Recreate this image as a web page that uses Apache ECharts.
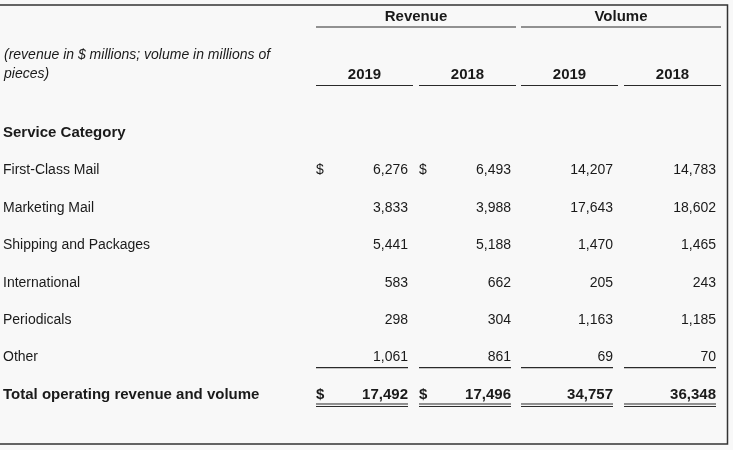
<!DOCTYPE html>
<html>
<head>
<meta charset="utf-8">
<script src="https://cdn.jsdelivr.net/npm/echarts@6/dist/echarts.min.js"></script>
<style>
  html, body { margin: 0; padding: 0; background: #f8f8f8; }
  #main { width: 733px; height: 450px; }
</style>
</head>
<body>
<div id="main"></div>
<script>
// data
const groups = ['Revenue', 'Volume']
const years = ['2019', '2018', '2019', '2018']
const noteLines = ['(revenue in $ millions; volume in millions of', 'pieces)']
const sectionTitle = 'Service Category'
const categories = ['First-Class Mail', 'Marketing Mail', 'Shipping and Packages', 'International', 'Periodicals', 'Other']
const revenue2019 = [6276, 3833, 5441, 583, 298, 1061]
const revenue2018 = [6493, 3988, 5188, 662, 304, 861]
const volume2019 = [14207, 17643, 1470, 205, 1163, 69]
const volume2018 = [14783, 18602, 1465, 243, 1185, 70]
const totalLabel = 'Total operating revenue and volume'

const columns = [revenue2019, revenue2018, volume2019, volume2018]
const totals = columns.map((c) => c.reduce((a, b) => a + b, 0))
const rowNames = [sectionTitle].concat(categories, [totalLabel])

// layout
const FONT = 'Helvetica, Arial, "Liberation Sans", sans-serif'
const INK = '#1a1a1a'
const LINE = '#2a2a2a'
const colBox = [
  { l: 316, r: 408, dollar: true },
  { l: 419, r: 511, dollar: true },
  { l: 521, r: 613, dollar: false },
  { l: 624, r: 716, dollar: false }
]
const fmt = (v) => v.toLocaleString('en-US')

var myChart = echarts.init(document.getElementById('main'))

function hline(x1, x2, y, w) {
  return {
    type: 'line',
    shape: { x1: x1, y1: y, x2: x2, y2: y },
    style: { stroke: LINE, lineWidth: w || 1.2 }
  }
}
function txt(x, y, s, align, bold, italic) {
  // bold text in the source is set a touch larger/wider
  const size = bold ? 15 : 14
  return {
    type: 'text',
    x: x, y: y,
    style: {
      text: s,
      fill: INK,
      font: (italic ? 'italic ' : '') + (bold ? 'bold ' : '') + size + 'px ' + FONT,
      align: align || 'left',
      verticalAlign: 'middle'
    }
  }
}

// header
let headerEls = []
groups.forEach((g, i) => {
  const a = colBox[i * 2], b = colBox[i * 2 + 1]
  headerEls.push(txt((a.l + b.r + 5) / 2, 17, g, 'center', true))
  headerEls.push(hline(a.l, b.r + 5, 27))
})
years.forEach((y, i) => {
  const c = colBox[i]
  headerEls.push(txt((c.l + c.r + 5) / 2, 75, y, 'center', true))
  headerEls.push(hline(c.l, c.r + 5, 85.5))
})
noteLines.forEach((t, i) => {
  headerEls.push(txt(4, 55 + i * 19.5, t, 'left', false, true))
})
headerEls.push({
  type: 'rect',
  shape: { x: -3, y: 5, width: 730.5, height: 439 },
  style: { fill: 'none', stroke: '#333', lineWidth: 1.5 }
})

let option = {
  backgroundColor: '#f8f8f8',
  animation: false,
  grid: { left: 0, right: 0, top: 114.3, bottom: 36.3 },
  xAxis: { type: 'value', min: 0, max: 1, show: false },
  yAxis: {
    type: 'category',
    data: rowNames,
    inverse: true,
    show: false
  },
  graphic: headerEls,
  series: [
    {
      type: 'custom',
      data: rowNames.map((n, i) => [0, i]),
      renderItem: function (params, api) {
        const idx = api.value(1)
        const y = api.coord([0, idx])[1]
        const isTitle = idx === 0
        const isTotal = idx === rowNames.length - 1
        const children = [txt(3, y, rowNames[idx], 'left', isTitle || isTotal)]
        if (isTitle) return { type: 'group', children: children }
        const dataIdx = idx - 1
        colBox.forEach((c, ci) => {
          const v = isTotal ? totals[ci] : columns[ci][dataIdx]
          children.push(txt(c.r, y, fmt(v), 'right', isTotal))
          if (c.dollar && (dataIdx === 0 || isTotal)) {
            children.push(txt(c.l, y, '$', 'left', isTotal))
          }
          if (dataIdx === categories.length - 1) {
            children.push(hline(c.l, c.r, y + 10))
          }
          if (isTotal) {
            children.push(hline(c.l, c.r, y + 9, 1))
            children.push(hline(c.l, c.r, y + 11.5, 1))
          }
        })
        return { type: 'group', children: children }
      }
    }
  ]
}
myChart.setOption(option)

window.onresize = () => {
  myChart.resize()
}
</script>
</body>
</html>
